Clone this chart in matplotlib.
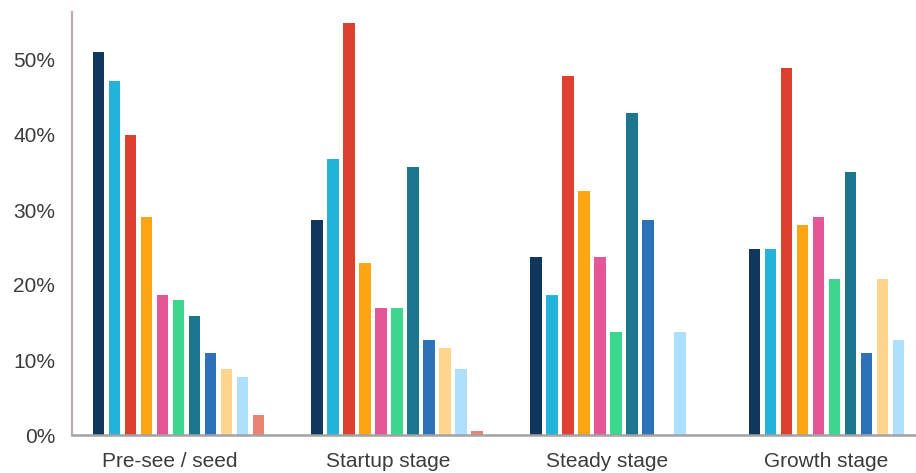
import matplotlib
matplotlib.use("Agg")
import matplotlib.pyplot as plt
import numpy as np

# ---- data ----
categories = ["Pre-see / seed", "Startup stage", "Steady stage", "Growth stage"]

s1 = [51.1, 28.7, 23.7, 24.8]
s2 = [47.2, 36.8, 18.7, 24.8]
s3 = [40.0, 54.9, 47.9, 48.9]
s4 = [29.1, 22.9, 32.5, 28.0]
s5 = [18.7, 16.9, 23.7, 29.1]
s6 = [18.0, 16.9, 13.7, 20.8]
s7 = [15.9, 35.7, 42.9, 35.1]
s8 = [10.9, 12.7, 28.7, 10.9]
s9 = [8.8, 11.6, 0.0, 20.8]
s10 = [7.7, 8.8, 13.7, 12.7]
s11 = [2.7, 0.5, 0.0, 0.0]
series = [s1, s2, s3, s4, s5, s6, s7, s8, s9, s10, s11]

colors = ["#12375e", "#22b4db", "#de4030", "#fea514", "#e55697", "#3ad78d",
          "#1c778e", "#2d72b8", "#ffd58f", "#aee0fd", "#e98472"]

yticks = [0, 10, 20, 30, 40, 50]
ytick_labels = ["0%", "10%", "20%", "30%", "40%", "50%"]

# ---- figure ----
W, H = 916, 473
fig = plt.figure(figsize=(W / 100, H / 100), dpi=100)
ax = fig.add_axes([72 / W, (H - 435) / H, (W - 72) / W, (435 - 12) / H])

group_step = 13.67
n = len(series)
centers = np.arange(len(categories)) * group_step
width = 0.72
for j, (vals, c) in enumerate(zip(series, colors)):
    ax.bar(centers + (j - (n - 1) / 2), vals, width=width, color=c, zorder=2)

ax.set_xlim((72 - 178.5) / 16, (916 - 178.5) / 16)
ax.set_ylim(0, (435 - 12) / 7.5)

ax.set_yticks(yticks)
ax.set_yticklabels(ytick_labels)
ax.set_xticks(centers - 0.55)
ax.set_xticklabels(categories)

ax.tick_params(axis="both", length=0, labelsize=15, labelcolor="#3c3c3c",
               labelfontfamily="Liberation Sans")
ax.tick_params(axis="y", pad=12)
ax.tick_params(axis="x", pad=12)

for side in ["top", "right"]:
    ax.spines[side].set_visible(False)
ax.spines["left"].set_color("#bcaeb0")
ax.spines["left"].set_linewidth(1.6)
ax.spines["bottom"].set_color("#a3a3a3")
ax.spines["bottom"].set_linewidth(1.8)
ax.spines["bottom"].set_zorder(3)
ax.set_facecolor("white")

fig.savefig("out.png", dpi=100, facecolor="white")
